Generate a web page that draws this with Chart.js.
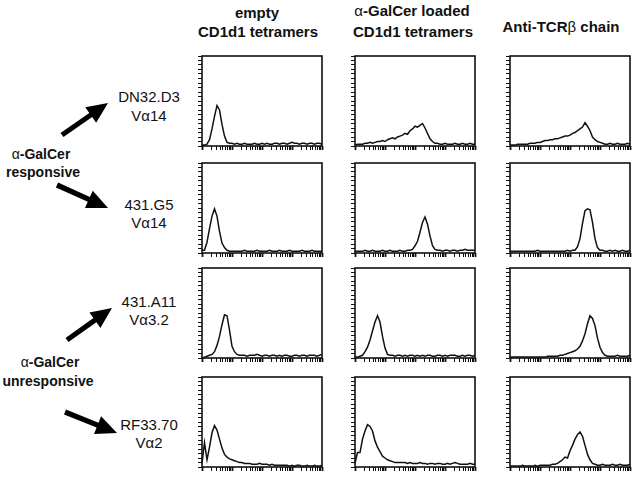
<!DOCTYPE html>
<html>
<head>
<meta charset="utf-8">
<script src="https://cdn.jsdelivr.net/npm/chart.js@4.4.1/dist/chart.umd.min.js"></script>
<style>
  html, body { margin: 0; padding: 0; background: #fff; }
  #fig { position: relative; width: 640px; height: 477px; overflow: hidden;
         font-family: "Liberation Sans", Arial, Helvetica, sans-serif; color: #111; }
  .panel { position: absolute; }
  .lbl { position: absolute; transform: translate(-50%, -50%); white-space: nowrap; line-height: 1; }
  .hd { font-weight: bold; font-size: 15px; }
  .grp { font-weight: bold; font-size: 14px; }
  .cl { font-size: 15px; }
  .sym { font-weight: normal; }
  #arrows { position: absolute; left: 0; top: 0; }
</style>
</head>
<body>
<div id="fig">
  <svg id="arrows" width="640" height="477"></svg>
</div>
<script>
// histogram counts, 49 bins spread over 4 log decades (12 bins per decade)
// row 1: DN32.D3
const emptyDN32  = [1,1,2,7,19,33,45,40,24,11, 4,3,3,2,3,2,2,3,2,2, 2,3,2,2,3,2,3,2,2,3, 3,2,3,3,2,3,4,3,3,2, 3,3,2,3,3,2,3,3,2];
const loadedDN32 = [1,2,2,2,3,3,4,3,4,5, 5,6,5,7,8,9,8,10,11,12, 14,13,17,19,22,21,23,25,20,14, 8,5,3,3,2,2,3,2,2,2, 3,2,2,3,2,2,3,2,2];
const tcrDN32    = [1,1,1,2,2,2,2,2,3,3, 3,4,4,5,6,6,7,7,8,8, 9,10,11,11,12,14,15,17,19,21, 26,22,17,10,7,5,4,3,2,2, 3,2,2,3,2,2,2,3,2];
// row 2: 431.G5
const emptyG5    = [3,3,12,27,41,49,41,24,11,6, 3,2,2,2,2,2,2,3,2,2, 2,2,3,2,2,2,2,3,2,2, 2,3,2,2,2,3,2,2,2,2, 3,2,2,2,3,2,2,2,2];
const loadedG5   = [2,2,2,2,3,2,2,3,2,2, 2,3,2,2,3,2,2,2,3,2, 2,3,3,4,8,13,23,34,40,32, 19,8,4,3,3,2,3,3,2,3, 3,2,3,3,4,3,3,3,3];
const tcrG5      = [2,2,2,2,2,2,2,2,2,2, 2,3,2,2,2,2,2,2,2,2, 2,2,2,3,2,3,3,7,16,33, 47,49,48,34,16,6,3,3,2,2, 3,2,3,2,2,3,2,2,3];
// row 3: 431.A11
const emptyA11   = [0,1,2,3,4,7,14,24,37,48, 47,31,13,7,4,3,3,3,2,3, 3,3,4,3,2,3,3,2,3,3, 2,3,2,3,3,2,2,3,3,2, 3,3,2,3,3,3,2,3,4];
const loadedA11  = [1,1,2,3,7,12,20,30,40,47, 40,24,11,4,3,3,2,3,3,2, 3,2,3,3,2,3,2,3,2,3, 3,2,2,3,3,2,3,2,3,3, 3,2,2,3,2,3,3,2,3];
const tcrA11     = [1,1,1,1,1,1,1,1,1,1, 1,1,1,1,1,2,2,2,2,2, 3,3,4,5,6,7,8,10,13,19, 27,38,47,44,36,22,12,6,3,2, 2,2,2,3,2,2,2,2,3];
// row 4: RF33.70
const emptyRF    = [4,27,8,22,38,46,41,31,21,14, 11,9,8,7,6,5,5,4,4,4, 3,3,3,4,3,3,3,2,3,2, 2,2,2,2,2,1,2,1,2,2, 1,1,2,1,1,2,1,1,2];
const loadedRF   = [4,16,16,31,40,47,45,40,29,22, 17,12,10,8,7,6,5,5,5,5, 5,4,5,4,4,4,5,4,4,3, 4,4,3,4,4,3,3,4,3,4, 5,4,3,3,3,3,4,3,3];
const tcrRF      = [1,1,1,1,1,2,1,1,1,1, 2,1,2,2,2,2,2,3,3,4, 6,8,11,10,18,24,31,36,39,34, 24,14,8,4,3,2,2,3,2,2, 2,3,2,2,3,2,2,2,3];

const headers = [["empty", "CD1d1 tetramers"], ["\u03b1-GalCer loaded", "CD1d1 tetramers"], ["Anti-TCR\u03b2 chain"]];
const clones = [["DN32.D3", "V\u03b114"], ["431.G5", "V\u03b114"], ["431.A11", "V\u03b13.2"], ["RF33.70", "V\u03b12"]];
const groups = [["\u03b1-GalCer", "responsive"], ["\u03b1-GalCer", "unresponsive"]];

const grid = [
  [emptyDN32, loadedDN32, tcrDN32],
  [emptyG5, loadedG5, tcrG5],
  [emptyA11, loadedA11, tcrA11],
  [emptyRF, loadedRF, tcrRF]
];

const bins = [];
for (let i = 0; i < 49; i++) bins.push(i / 12);

const logTicks = [];
for (let d = 0; d < 4; d++) {
  for (let k = 1; k < 10; k++) logTicks.push({ value: d + Math.log10(k), major: k === 1 });
}
logTicks.push({ value: 4, major: true });

const colLeft = [202, 355, 510];
const rowTop = [56, 163, 268, 377];
const boxW = 120, boxH = 90;

const fig = document.getElementById('fig');

const framePlugin = {
  id: 'frame',
  beforeDatasetsDraw(chart) {
    const { ctx, chartArea: a } = chart;
    ctx.save();
    ctx.strokeStyle = '#111';
    ctx.lineWidth = 1.6;
    ctx.strokeRect(a.left, a.top, a.right - a.left, a.bottom - a.top);
    ctx.restore();
  }
};

grid.forEach((row, r) => {
  row.forEach((counts, c) => {
    const wrap = document.createElement('div');
    wrap.className = 'panel';
    wrap.style.left = (colLeft[c] - 6) + 'px';
    wrap.style.top = (rowTop[r] - 2) + 'px';
    const canvas = document.createElement('canvas');
    canvas.width = boxW + 8;
    canvas.height = boxH + 8;
    wrap.appendChild(canvas);
    fig.appendChild(wrap);

    new Chart(canvas.getContext('2d'), {
      type: 'line',
      data: {
        labels: bins,
        datasets: [{
          data: counts,
          borderColor: '#111',
          borderWidth: 1.5,
          pointRadius: 0,
          tension: 0,
          fill: false,
          clip: 3
        }]
      },
      options: {
        responsive: false,
        animation: false,
        layout: { padding: { left: 2, top: 2, right: 2, bottom: 2 } },
        plugins: { legend: { display: false }, tooltip: { enabled: false } },
        scales: {
          x: {
            type: 'linear',
            min: 0,
            max: 4,
            afterBuildTicks: (axis) => { axis.ticks = logTicks.map(t => ({ ...t })); },
            ticks: { display: false },
            border: { display: false },
            grid: {
              drawOnChartArea: false,
              drawTicks: true,
              tickLength: 4,
              color: '#111',
              tickWidth: (ctx) => (ctx.tick && ctx.tick.major ? 1.8 : 1)
            }
          },
          y: {
            min: 0,
            max: 100,
            ticks: { display: false, stepSize: 5 },
            border: { display: false },
            grid: {
              drawOnChartArea: false,
              drawTicks: true,
              tickLength: 4,
              color: '#111',
              tickWidth: 1
            }
          }
        }
      },
      plugins: [framePlugin]
    });
  });
});

function addLabel(text, x, y, cls) {
  const d = document.createElement('div');
  d.className = 'lbl ' + cls;
  d.innerHTML = text.replace(/([\u03b1\u03b2])/g, '<span class="sym">$1</span>');
  d.style.left = x + 'px';
  d.style.top = y + 'px';
  fig.appendChild(d);
}

// column headers
addLabel(headers[0][0], 257, 12, 'hd');
addLabel(headers[0][1], 258, 31, 'hd');
addLabel(headers[1][0], 412, 10, 'hd');
addLabel(headers[1][1], 413, 31, 'hd');
addLabel(headers[2][0], 561, 26, 'hd');

// clone names
const cloneY = [[96, 115], [204, 222], [301, 319], [424, 442]];
clones.forEach((cl, i) => {
  addLabel(cl[0], 149, cloneY[i][0], 'cl');
  addLabel(cl[1], 149, cloneY[i][1], 'cl');
});

// group names
addLabel(groups[0][0], 41, 154, 'grp');
addLabel(groups[0][1], 43, 172, 'grp');
addLabel(groups[1][0], 50, 362, 'grp');
addLabel(groups[1][1], 48, 381, 'grp');

// arrows from group names to clones
const svg = document.getElementById('arrows');
function arrow(x1, y1, x2, y2) {
  const dx = x2 - x1, dy = y2 - y1, len = Math.hypot(dx, dy);
  const ux = dx / len, uy = dy / len, px = -uy, py = ux;
  const head = 21, hw = 9.5, sw = 2.6;
  const bx = x2 - ux * head, by = y2 - uy * head;
  const pts = [
    [x1 + px * sw, y1 + py * sw], [bx + px * sw, by + py * sw], [bx + px * hw, by + py * hw],
    [x2, y2],
    [bx - px * hw, by - py * hw], [bx - px * sw, by - py * sw], [x1 - px * sw, y1 - py * sw]
  ];
  const poly = document.createElementNS('http://www.w3.org/2000/svg', 'polygon');
  poly.setAttribute('points', pts.map(p => p[0].toFixed(1) + ',' + p[1].toFixed(1)).join(' '));
  poly.setAttribute('fill', '#000');
  svg.appendChild(poly);
}
arrow(62, 135, 108, 103);
arrow(57, 185, 108, 208);
arrow(67, 340, 112, 308);
arrow(65, 412, 117, 433);
</script>
</body>
</html>
